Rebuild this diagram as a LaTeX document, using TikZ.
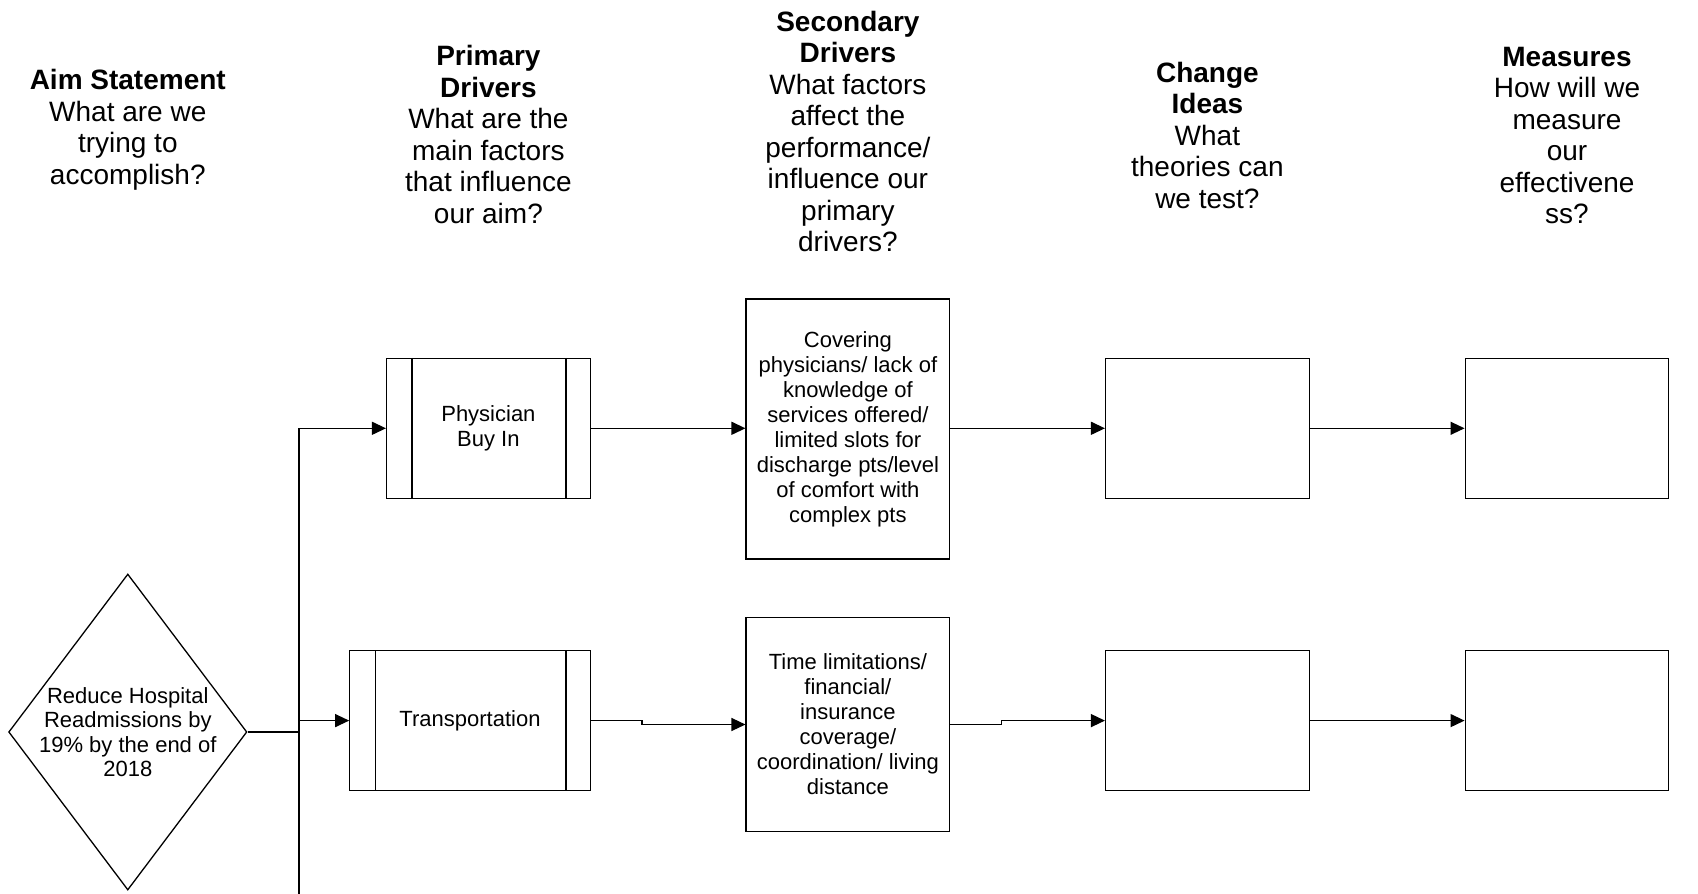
\documentclass[tikz,border=0pt]{standalone}
\usepackage{fontspec}
\setmainfont{Liberation Sans}
\usetikzlibrary{arrows.meta,shapes.geometric}
\begin{document}
\begin{tikzpicture}[x=1pt,y=-1pt,
  box/.style={draw,line width=1.3pt,rectangle,inner sep=0pt,align=center,font=\fontsize{22}{25}\selectfont},
  hdr/.style={align=center,inner sep=0pt,font=\fontsize{28}{31.5}\selectfont},
  conn/.style={line width=1.3pt},
  arr/.style={conn,-{Triangle[length=14pt,width=13pt]}}]
\useasboundingbox[fill=white] (0,0) rectangle (1698,894);

% headers
\node[hdr] (hAim) at (127.8,130) {\textbf{Aim Statement}\\What are we\\trying to\\accomplish?};
\node[hdr] (hPri) at (488.4,134.5) {\textbf{Primary}\\\textbf{Drivers}\\What are the\\main factors\\that influence\\our aim?};
\node[hdr] (hSec) at (847.9,131.6) {\textbf{Secondary}\\\textbf{Drivers}\\What factors\\affect the\\performance/\\influence our\\primary\\drivers?};
\node[hdr] (hChg) at (1207.4,135) {\textbf{Change}\\\textbf{Ideas}\\What\\theories can\\we test?};
\node[hdr] (hMea) at (1567,135.5) {\textbf{Measures}\\How will we\\measure\\our\\effectivene\\ss?};

% aim diamond
\node[diamond,draw,line width=1.3pt,aspect=0.753,inner sep=-10pt,minimum width=238.3pt,minimum height=316pt,align=center,font=\fontsize{22}{24.5}\selectfont] (aim) at (127.8,732) {Reduce Hospital\\Readmissions by\\19\% by the end of\\2018};

% primary drivers
\node[box,minimum width=203.6pt,minimum height=139.7pt] (p1) at (488.4,428.3) {Physician\\Buy In};
\node[box,minimum width=240.4pt,minimum height=139.7pt] (p2) at (470,720.6) {Transportation};
\foreach \n in {p1,p2}{
  \draw[conn] ([xshift=26pt]\n.north west) -- ([xshift=26pt]\n.south west);
  \draw[conn] ([xshift=-25pt]\n.north east) -- ([xshift=-25pt]\n.south east);
}

% secondary drivers
\node[box,minimum width=203.6pt,minimum height=259.9pt] (s1) at (847.9,428.9) {Covering\\physicians/ lack of\\knowledge of\\services offered/\\limited slots for\\discharge pts/level\\of comfort with\\complex pts};
\node[box,minimum width=203.6pt,minimum height=214.4pt] (s2) at (847.9,724.5) {Time limitations/\\financial/\\insurance\\coverage/\\coordination/ living\\distance};

% change ideas
\node[box,minimum width=203.6pt,minimum height=139.7pt] (c1) at (1207.4,428.3) {};
\node[box,minimum width=203.6pt,minimum height=139.7pt] (c2) at (1207.4,720.6) {};

% measures
\node[box,minimum width=203.6pt,minimum height=139.7pt] (m1) at (1567,428.3) {};
\node[box,minimum width=203.6pt,minimum height=139.7pt] (m2) at (1567,720.6) {};

% trunk
\coordinate (tTop) at (299,428.3);
\coordinate (tMid) at (299,732);
\coordinate (tRow2) at (299,720.6);
\coordinate (tBot) at (299,894);
\draw[conn] (tTop) -- (tBot);
\draw[conn] (aim.east) -- (tMid);
\draw[arr] (tTop) -- (p1.west);
\draw[arr] (tRow2) -- (p2.west);

% row 1
\draw[arr] (p1.east) -- (s1.west |- p1.east);
\draw[arr] (s1.east |- c1.west) -- (c1.west);
\draw[arr] (c1.east) -- (m1.west);

% row 2 with jogs
\coordinate (j1) at (642,720.6);
\coordinate (j2) at (1001.7,724.5);
\draw[arr] (p2.east) -- (j1) -- (j1 |- s2.west) -- (s2.west);
\draw[arr] (s2.east) -- (j2) -- (j2 |- c2.west) -- (c2.west);
\draw[arr] (c2.east) -- (m2.west);
\end{tikzpicture}
\end{document}
